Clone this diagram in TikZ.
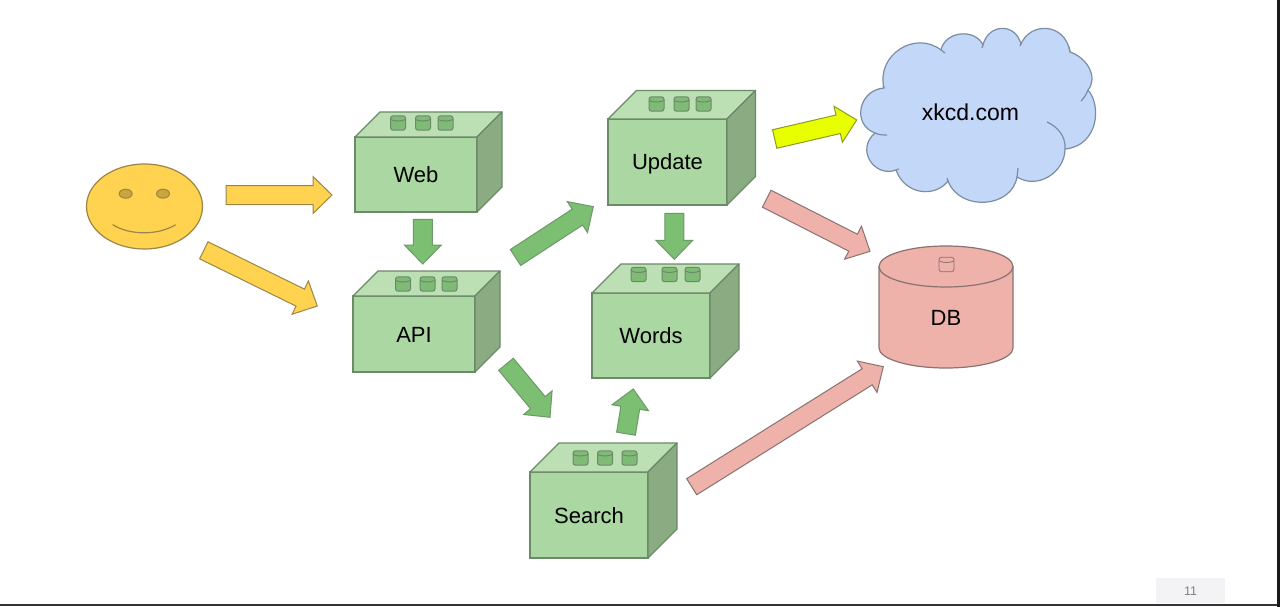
\documentclass[tikz,border=0pt]{standalone}
\usepackage{fontspec}
\setmainfont{Liberation Sans}
\usepackage{tikz}
\usetikzlibrary{calc,shapes.geometric}

\definecolor{boxfront}{HTML}{ABD7A2}
\definecolor{boxtop}{HTML}{BDDFB4}
\definecolor{boxside}{HTML}{8BAC82}
\definecolor{boxline}{HTML}{6A8A68}
\definecolor{drumfill}{HTML}{7FBB76}
\definecolor{greenfill}{HTML}{7CBF72}
\definecolor{greenline}{HTML}{6A9A66}
\definecolor{orangefill}{HTML}{FFD24F}
\definecolor{orangeline}{HTML}{9A8648}
\definecolor{eyefill}{HTML}{C9A53F}
\definecolor{yellowfill}{HTML}{E8FF00}
\definecolor{yellowline}{HTML}{8F9A25}
\definecolor{pinkfill}{HTML}{EEB2AB}
\definecolor{pinkline}{HTML}{8A7270}
\definecolor{cloudfill}{HTML}{C3D8F8}
\definecolor{cloudline}{HTML}{7C8CA2}
\definecolor{numfill}{HTML}{F3F3F6}
\definecolor{numtext}{HTML}{808080}

\newcommand{\blockarrow}[3]{
 \coordinate (neck) at ($(#3)!19pt!(#2)$);
 \draw[#1] ($(#2)!9.5pt!90:(#3)$) -- ($(neck)!9.5pt!90:(#3)$) -- ($(neck)!18.5pt!90:(#3)$) -- (#3)
 -- ($(neck)!18.5pt!-90:(#3)$) -- ($(neck)!9.5pt!-90:(#3)$) -- ($(#2)!9.5pt!-90:(#3)$) -- cycle;
}
\newcommand{\boxfaces}[2]{
 \draw[topface] (#1.north west) -- ($(#1.north west)+(#2,-#2)$) -- ($(#1.north east)+(#2,-#2)$) -- (#1.north east) -- cycle;
 \draw[sideface] (#1.north east) -- ($(#1.north east)+(#2,-#2)$) -- ($(#1.south east)+(#2,-#2)$) -- (#1.south east) -- cycle;
}
\newcommand{\drum}[3]{
 \begin{scope}[shift={(#1,#2)}]
 \draw[#3,rounded corners=2.5pt] (-7.5,-7.2) rectangle (7.5,7.2);
 \draw[#3,fill=none] (-7.5,-3.5) .. controls (-3,-1.5) and (3,-1.5) .. (7.5,-3.5);
 \end{scope}
}

\begin{document}
\begin{tikzpicture}[x=1pt,y=-1pt]
 \tikzset{
 box/.style={draw=boxline,fill=boxfront,line width=1.3pt,inner sep=0pt,outer sep=0pt,font=\fontsize{22}{24}\selectfont,text height=16pt,text depth=0pt},
 topface/.style={draw=boxline,fill=boxtop,line width=1.3pt,line join=round},
 sideface/.style={draw=boxline,fill=boxside,line width=1.3pt,line join=round},
 greendrum/.style={draw=boxline,fill=drumfill,line width=1pt},
 pinkdrum/.style={draw=pinkline,fill=pinkfill,line width=.8pt},
 gre/.style={draw=greenline,fill=greenfill,line width=1pt},
 ora/.style={draw=orangeline,fill=orangefill,line width=1pt},
 yel/.style={draw=yellowline,fill=yellowfill,line width=1pt},
 pin/.style={draw=pinkline,fill=pinkfill,line width=1pt},
 plain/.style={inner sep=0pt,outer sep=0pt,text height=16pt,text depth=0pt,font=\fontsize{22}{24}\selectfont}
 }
 \useasboundingbox (0,0) rectangle (1280,607);
 \fill[white] (0,0) rectangle (1280,607);

 \node[draw=orangeline,fill=orangefill,line width=1.2pt,ellipse,minimum width=116pt,minimum height=85pt,inner sep=0pt,outer sep=0pt] (Face) at (144.5,206.5) {};
 \draw[orangeline,fill=eyefill,line width=1pt] (125.7,193.7) ellipse [x radius=6.5pt,y radius=4.5pt];
 \draw[orangeline,fill=eyefill,line width=1pt] (163,193.7) ellipse [x radius=6.5pt,y radius=4.5pt];
 \draw[orangeline,line width=1.2pt] (112.7,224.7) .. controls (130,235.5) and (158,235.5) .. (175.7,224.7);

 \node[box,minimum width=122pt,minimum height=75pt] (Web) at (416,174.5) {Web};
 \node[box,minimum width=122pt,minimum height=76pt] (API) at (414,334) {API};
 \node[box,minimum width=119pt,minimum height=86pt] (Update) at (667.5,162) {Update};
 \node[box,minimum width=118pt,minimum height=85pt] (Words) at (651,335.5) {Words};
 \node[box,minimum width=118pt,minimum height=86pt] (Search) at (589,515) {Search};
 \boxfaces{Web}{25}
 \boxfaces{API}{25}
 \boxfaces{Update}{28.5}
 \boxfaces{Words}{29}
 \boxfaces{Search}{29}
 \foreach \dx in {398,423,445.5} {\drum{\dx}{123}{greendrum}}
 \foreach \dx in {403,427.5,449.5} {\drum{\dx}{284}{greendrum}}
 \foreach \dx in {656.5,681.5,703.5} {\drum{\dx}{104}{greendrum}}
 \foreach \dx in {638.5,669.5,692.5} {\drum{\dx}{274.5}{greendrum}}
 \foreach \dx in {580.5,605,629.5} {\drum{\dx}{458}{greendrum}}

 \draw[draw=cloudline,fill=cloudfill,line width=1.2pt,line join=round] (884,88)
 .. controls (876,55) and (915,30) .. (941,50)
 .. controls (945,31) and (975,28) .. (983,45)
 .. controls (988,24) and (1015,22) .. (1021,44)
 .. controls (1030,22) and (1065,22) .. (1070,52)
 .. controls (1088,58) and (1098,78) .. (1088,90)
 .. controls (1102,106) and (1098,146) .. (1065,149)
 .. controls (1065,172) and (1038,190) .. (1017,177)
 .. controls (1012,208) and (960,212) .. (948,181)
 .. controls (935,198) and (905,195) .. (896,170)
 .. controls (875,178) and (855,150) .. (875,133)
 .. controls (852,125) and (858,90) .. (884,88) -- cycle;
 \draw[cloudline,line width=1.2pt]
 (941,50) -- (945,53)
 (983,45) -- (982,48)
 (1021,44) -- (1020,46)
 (1070,52) -- (1069,47)
 (1088,90) .. controls (1086,95) and (1084,98) .. (1081,101)
 (1065,149) .. controls (1066,135) and (1056,126) .. (1047,122)
 (1017,177) -- (1018,168)
 (948,181) -- (947,178)
 (896,170) -- (899,169)
 (875,133) .. controls (879,135) and (883,135) .. (887,135)
 (884,88) -- (883,86);
 \node[plain,font=\fontsize{23}{25}\selectfont] (Cloud) at (970.5,112.5) {xkcd.com};

 \draw[pin,line width=1.2pt] (879,266.5) -- (879,348) arc [start angle=180,end angle=360,x radius=67pt,y radius=20pt]
 -- (1013,266.5) arc [start angle=0,end angle=180,x radius=67pt,y radius=20.5pt] -- cycle;
 \draw[pinkline,line width=1.2pt] (879,266.5) arc [start angle=180,end angle=360,x radius=67pt,y radius=20.5pt];
 \drum{946.5}{264.5}{pinkdrum}
 \node[plain] (DB) at (946,317) {DB};

 \path
 (Face) ++(81.5,-11.5) coordinate (FaceOutW)
 (Web) ++(-84,20.5) coordinate (WebIn)
 (Face) ++(59.3,43.8) coordinate (FaceOutA)
 (API) ++(-96.7,-28) coordinate (APIInF)
 (Web) ++(6.8,44.8) coordinate (WebOut)
 (API) ++(8.8,-70) coordinate (APIInW)
 (API) ++(101.5,-76.5) coordinate (APIOutU)
 (Update) ++(-74.2,44.7) coordinate (UpdateIn)
 (Update) ++(6.8,51.3) coordinate (UpdateOutW)
 (Words) ++(23.3,-76.2) coordinate (WordsInU)
 (API) ++(92,30.3) coordinate (APIOutS)
 (Search) ++(-39,-97.7) coordinate (SearchIn)
 (Search) ++(37,-81.3) coordinate (SearchOutW)
 (Words) ++(-17.7,53.5) coordinate (WordsInS)
 (Update) ++(107.2,-23) coordinate (UpdateOutC)
 (Cloud) ++(-113.8,7.5) coordinate (CloudIn)
 (Update) ++(99.2,36.7) coordinate (UpdateOutD)
 (DB) ++(-76,-65.7) coordinate (DBInU)
 (Search) ++(102.7,-28.3) coordinate (SearchOutD)
 (DB) ++(-62.7,49.7) coordinate (DBInS)
 ;
 \blockarrow{ora}{FaceOutW}{WebIn}
 \blockarrow{ora}{FaceOutA}{APIInF}
 \blockarrow{gre}{WebOut}{APIInW}
 \blockarrow{gre}{APIOutU}{UpdateIn}
 \blockarrow{gre}{UpdateOutW}{WordsInU}
 \blockarrow{gre}{APIOutS}{SearchIn}
 \blockarrow{gre}{SearchOutW}{WordsInS}
 \blockarrow{yel}{UpdateOutC}{CloudIn}
 \blockarrow{pin}{UpdateOutD}{DBInU}
 \blockarrow{pin}{SearchOutD}{DBInS}

 \fill[numfill] (1156,578) rectangle (1225,603);
 \node[inner sep=0pt,text=numtext,font=\fontsize{12.5}{14}\selectfont] (PageNum) at (1190.5,591.5) {11};
 \fill[black!80] (0,604) rectangle (1280,605.5);
 \fill[black!90] (1277,0) rectangle (1280,607);
\end{tikzpicture}
\end{document}
